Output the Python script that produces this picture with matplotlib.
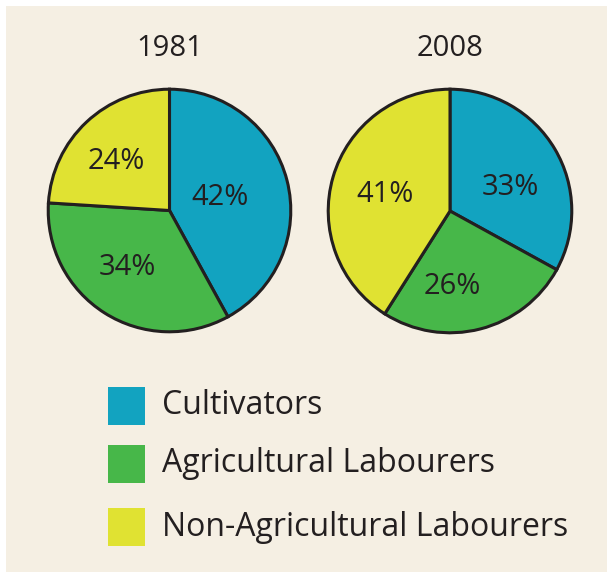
import numpy as np
import matplotlib.pyplot as plt
from matplotlib.patches import Rectangle

plt.rcParams['font.family'] = ['Open Sans', 'DejaVu Sans']

# shares of rural workforce, clockwise from 12 o'clock
categories = ['Cultivators', 'Agricultural Labourers', 'Non-Agricultural Labourers']
years = ['1981', '2008']
share_1981 = [42, 34, 24]
share_2008 = [33, 26, 41]

colors = ['#12a3c0', '#47b749', '#e0e232']
bg = '#f5efe3'
ink = '#231f20'

W, H = 607, 572
fig = plt.figure(figsize=(W / 100, H / 100), dpi=100)
fig.patch.set_facecolor('white')
fig.add_artist(Rectangle((6 / W, 0), 1 - 6 / W, 1 - 6 / H, transform=fig.transFigure,
                         facecolor=bg, edgecolor='none', zorder=-10))

# pie boxes in pixels: left, top, diameter
boxes = [(47, 88, 245), (327, 88, 246)]
# where each % label sits: fraction of radius, angle nudge in degrees
label_r = [[0.43, 0.58, 0.60], [0.53, 0.62, 0.55]]
label_nudge = [[0, -4, 4], [-9, -13, 2]]

for year, vals, (x0, y0, d), lr, ln in zip(years, [share_1981, share_2008], boxes,
                                             label_r, label_nudge):
    ax = fig.add_axes([x0 / W, 1 - (y0 + d) / H, d / W, d / H])
    wedges, _ = ax.pie(vals, colors=colors, startangle=90, counterclock=False,
                       wedgeprops=dict(edgecolor=ink, linewidth=2.2))
    ax.set_xlim(-1.01, 1.01)
    ax.set_ylim(-1.01, 1.01)
    ax.set_aspect('equal')
    ax.axis('off')
    for w, v, r, nud in zip(wedges, vals, lr, ln):
        ang = np.deg2rad((w.theta1 + w.theta2) / 2 + nud)
        ax.text(r * np.cos(ang), r * np.sin(ang), f'{v}%', ha='center', va='center',
                fontsize=21, color=ink)
    fig.text((x0 + d / 2) / W, 1 - 48 / H, year, ha='center', va='center',
             fontsize=21, color=ink)

# legend swatches and labels
legend_y = [406, 464, 527]
for cat, col, yc in zip(categories, colors, legend_y):
    fig.add_artist(Rectangle((108 / W, 1 - (yc + 19) / H), 37 / W, 38 / H,
                             transform=fig.transFigure, facecolor=col, edgecolor='none'))
    fig.text(162 / W, 1 - yc / H, cat, ha='left', va='center', fontsize=23, color=ink)

fig.savefig('out.png', dpi=100, facecolor=fig.get_facecolor())
